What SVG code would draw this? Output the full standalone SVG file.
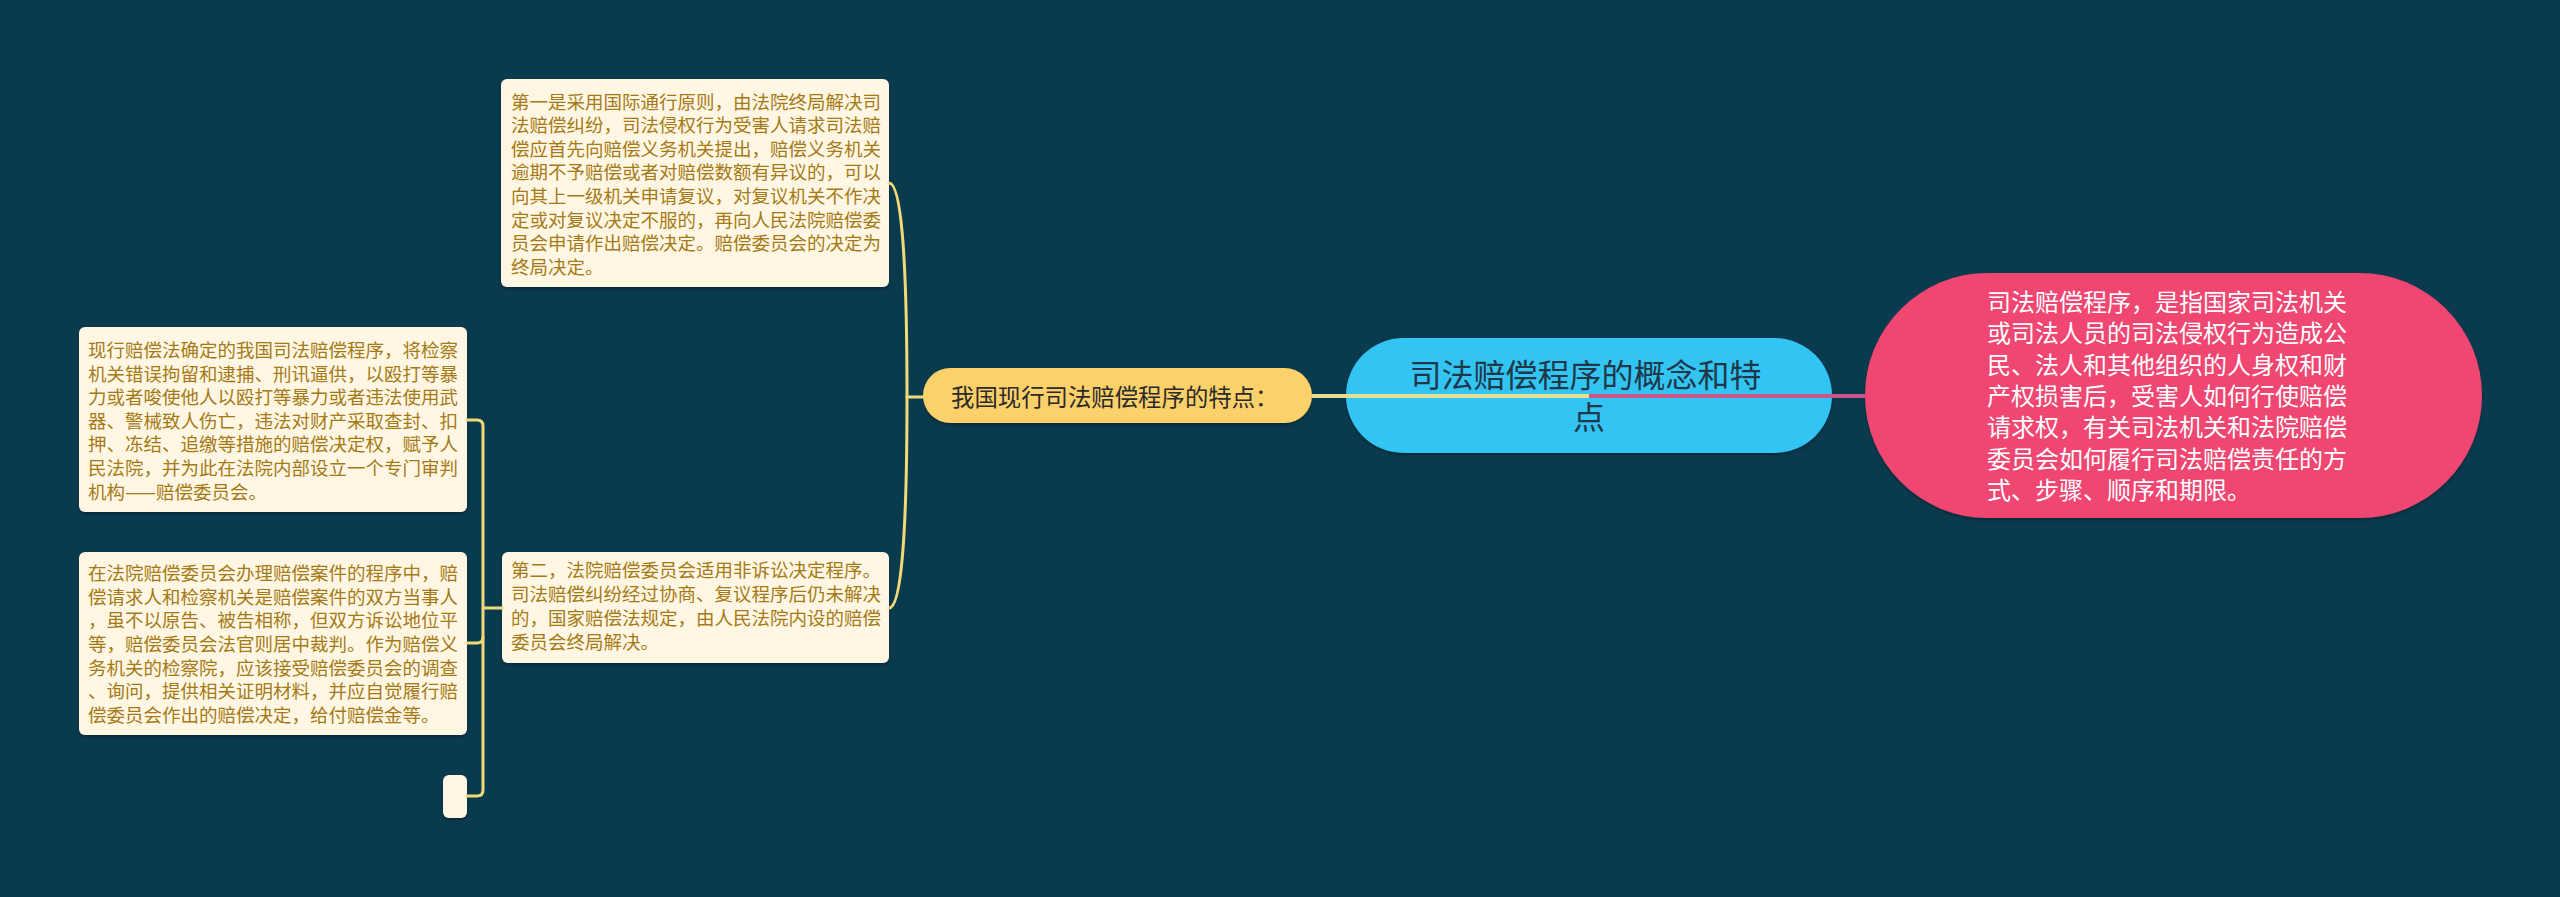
<svg xmlns="http://www.w3.org/2000/svg" width="2560" height="897" viewBox="0 0 2560 897">
<defs>
<style>
.bg{fill:#0a3a4e}
.card{fill:#fff7e3}
.ct{font-family:"Noto Sans CJK SC","Noto Sans",sans-serif;font-size:18.5px;fill:#a57a16}
.yt{font-family:"Noto Sans CJK SC","Noto Sans",sans-serif;font-size:23.4px;fill:#2a2a2a}
.bt{font-family:"Noto Sans CJK SC","Noto Sans",sans-serif;font-size:32px;fill:#1f3747}
.pt{font-family:"Noto Sans CJK SC","Noto Sans",sans-serif;font-size:24px;fill:#ffffff}
.lnY{fill:none;stroke:#f2d978;stroke-width:3;stroke-linecap:round}
.lnC{fill:none;stroke:#e4df8e;stroke-width:4}
.lnP{fill:none;stroke:#c9568a;stroke-width:4}
</style>
<filter id="sh" x="-10%" y="-10%" width="120%" height="130%">
<feDropShadow dx="0" dy="2" stdDeviation="1.5" flood-color="#000000" flood-opacity="0.3"/>
</filter>
</defs>
<rect class="bg" x="0" y="0" width="2560" height="897"/>

<g id="node-pink">
<rect x="1865" y="273" width="617" height="245" rx="122.5" fill="#ef4771" filter="url(#sh)"/>
<text class="pt" x="1987">
<tspan x="1987" y="311">司法赔偿程序，是指国家司法机关</tspan>
<tspan x="1987" y="342.3">或司法人员的司法侵权行为造成公</tspan>
<tspan x="1987" y="373.6">民、法人和其他组织的人身权和财</tspan>
<tspan x="1987" y="404.9">产权损害后，受害人如何行使赔偿</tspan>
<tspan x="1987" y="436.2">请求权，有关司法机关和法院赔偿</tspan>
<tspan x="1987" y="467.5">委员会如何履行司法赔偿责任的方</tspan>
<tspan x="1987" y="498.8">式、步骤、顺序和期限。</tspan>
</text>
</g>

<g id="node-root">
<rect x="1346" y="338" width="486" height="115" rx="57.5" fill="#31c4f3" filter="url(#sh)"/>
<text class="bt" text-anchor="middle">
<tspan x="1589" y="387">司法赔偿程序的概念和特</tspan>
<tspan x="1589" y="429">点</tspan>
</text>
</g>

<g id="node-yellow">
<rect x="923" y="368" width="389" height="55" rx="27.5" fill="#fdd16b" filter="url(#sh)"/>
<text class="yt" x="951" y="405.5">我国现行司法赔偿程序的特点：</text>
</g>

<g id="node-first">
<rect class="card" x="501" y="79" width="388" height="208" rx="6" filter="url(#sh)"/>
<text class="ct">
<tspan x="511" y="108.5">第一是采用国际通行原则，由法院终局解决司</tspan>
<tspan x="511" y="132.1">法赔偿纠纷，司法侵权行为受害人请求司法赔</tspan>
<tspan x="511" y="155.7">偿应首先向赔偿义务机关提出，赔偿义务机关</tspan>
<tspan x="511" y="179.3">逾期不予赔偿或者对赔偿数额有异议的，可以</tspan>
<tspan x="511" y="202.9">向其上一级机关申请复议，对复议机关不作决</tspan>
<tspan x="511" y="226.5">定或对复议决定不服的，再向人民法院赔偿委</tspan>
<tspan x="511" y="250.1">员会申请作出赔偿决定。赔偿委员会的决定为</tspan>
<tspan x="511" y="273.7">终局决定。</tspan>
</text>
</g>

<g id="node-second">
<rect class="card" x="502" y="552" width="387" height="111" rx="6" filter="url(#sh)"/>
<text class="ct">
<tspan x="511" y="577">第二，法院赔偿委员会适用非诉讼决定程序。</tspan>
<tspan x="511" y="600.9">司法赔偿纠纷经过协商、复议程序后仍未解决</tspan>
<tspan x="511" y="624.8">的，国家赔偿法规定，由人民法院内设的赔偿</tspan>
<tspan x="511" y="648.7">委员会终局解决。</tspan>
</text>
</g>

<g id="node-detail-1">
<rect class="card" x="79" y="327" width="388" height="185" rx="6" filter="url(#sh)"/>
<text class="ct">
<tspan x="88" y="356.8">现行赔偿法确定的我国司法赔偿程序，将检察</tspan>
<tspan x="88" y="380.5">机关错误拘留和逮捕、刑讯逼供，以殴打等暴</tspan>
<tspan x="88" y="404.1">力或者唆使他人以殴打等暴力或者违法使用武</tspan>
<tspan x="88" y="427.8">器、警械致人伤亡，违法对财产采取查封、扣</tspan>
<tspan x="88" y="451.4">押、冻结、追缴等措施的赔偿决定权，赋予人</tspan>
<tspan x="88" y="475.1">民法院，并为此在法院内部设立一个专门审判</tspan>
<tspan x="88" y="498.7">机构——赔偿委员会。</tspan>
</text>
</g>

<g id="node-detail-2">
<rect class="card" x="79" y="552" width="388" height="183" rx="6" filter="url(#sh)"/>
<text class="ct">
<tspan x="88" y="580">在法院赔偿委员会办理赔偿案件的程序中，赔</tspan>
<tspan x="88" y="603.7">偿请求人和检察机关是赔偿案件的双方当事人</tspan>
<tspan x="88" y="627.3">，虽不以原告、被告相称，但双方诉讼地位平</tspan>
<tspan x="88" y="651">等，赔偿委员会法官则居中裁判。作为赔偿义</tspan>
<tspan x="88" y="674.6">务机关的检察院，应该接受赔偿委员会的调查</tspan>
<tspan x="88" y="698.3">、询问，提供相关证明材料，并应自觉履行赔</tspan>
<tspan x="88" y="721.9">偿委员会作出的赔偿决定，给付赔偿金等。</tspan>
</text>
</g>

<g id="node-empty">
<rect class="card" x="443" y="775" width="24" height="43" rx="6" filter="url(#sh)"/>
</g>

<g id="connectors">
<path class="lnC" d="M1312,396 H1589"/>
<path class="lnP" d="M1589,396 H1865"/>
<path class="lnY" d="M923,397 H907"/>
<path class="lnY" d="M907,397 Q907,183 889,183"/>
<path class="lnY" d="M907,397 Q907,608 889,608"/>
<path class="lnY" d="M502,608 H483"/>
<path class="lnY" d="M467,420 H477 Q483,420 483,426 V790 Q483,796 477,796 H467"/>
<path class="lnY" d="M467,643 H477 Q483,643 483,637"/>
</g>
</svg>
